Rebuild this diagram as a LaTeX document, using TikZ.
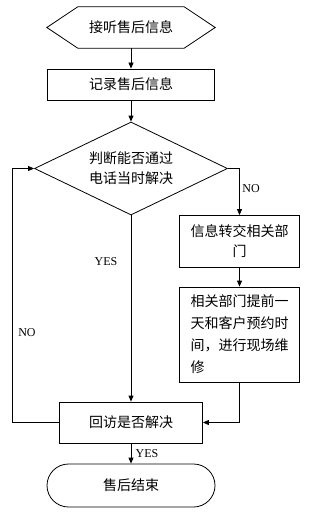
\documentclass[tikz,border=0pt]{standalone}
\usepackage{fontspec}
\setmainfont{Liberation Serif}
\newfontfamily\cjk{Noto Sans CJK SC}
\usetikzlibrary{shapes.geometric,arrows.meta}
\tikzset{
  line/.style={line width=0.8pt},
  flow/.style={line,-{Triangle[length=6pt,width=5pt]}},
  cn/.style={font=\cjk\fontsize{14}{20}\selectfont,align=center,inner sep=0pt},
  box/.style={cn,draw,line width=0.8pt},
  yn/.style={font=\fontsize{12}{14}\selectfont,inner sep=0pt}
}

\begin{document}
\begin{tikzpicture}[x=1pt,y=-1pt]
  \useasboundingbox (0,0) rectangle (310,516);

  \node[cn,minimum width=168pt,minimum height=41pt] (start) at (131,27.5) {接听售后信息};
  \draw[line] (start.west) -- ([xshift=31pt]start.north west) -- ([xshift=-31pt]start.north east)
    -- (start.east) -- ([xshift=-31pt]start.south east) -- ([xshift=31pt]start.south west) -- cycle;

  \node[box,minimum width=167pt,minimum height=31pt] (rec) at (131,84.5) {记录售后信息};
  \node[box,diamond,aspect=2,minimum width=193pt,minimum height=93pt] (judge) at (131,168.5) {判断能否通过\\电话当时解决};
  \node[box,minimum width=120pt,minimum height=52pt] (fwd) at (239.5,241.5) {信息转交相关部\\门};
  \node[box,align=left,font=\cjk\fontsize{14}{22}\selectfont,minimum width=120pt,minimum height=95pt] (site) at (239.5,334.5)
    {相关部门提前一\\天和客户预约时\\间，进行现场维\\修};
  \node[box,minimum width=143pt,minimum height=41pt] (visit) at (131,422.5) {回访是否解决};
  \node[box,rounded corners=21.5pt,minimum width=168pt,minimum height=43pt] (fin) at (131,485.5) {售后结束};
  \coordinate (back) at (12,422.5);

  \draw[flow] (start) -- (rec);
  \draw[flow] (rec) -- (judge);
  \draw[flow] (judge) -- (visit);
  \draw[flow] (judge.east) -| (fwd.north);
  \draw[flow] (fwd) -- (site);
  \draw[flow] (site.south) |- (visit.east);
  \draw[flow] (visit.west) -- (back) |- (judge.west);
  \draw[flow] (visit) -- (fin);

  \node[yn] (no1) at (251,189) {NO};
  \node[yn] (yes1) at (106,262) {YES};
  \node[yn] (no2) at (27,333) {NO};
  \node[yn] (yes2) at (147,454) {YES};
\end{tikzpicture}
\end{document}
